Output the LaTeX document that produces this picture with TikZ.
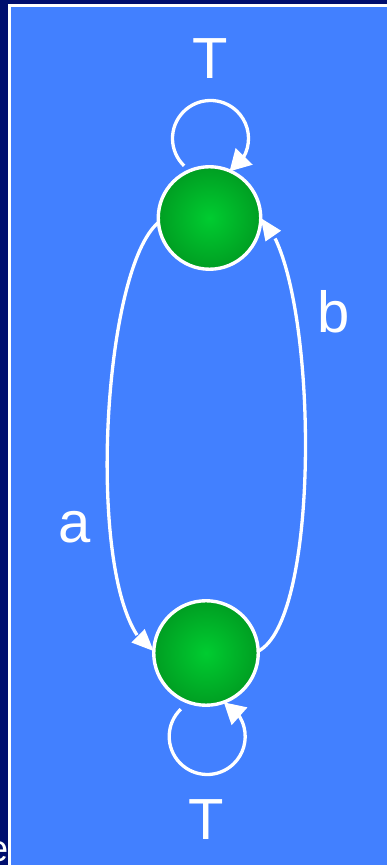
\documentclass[tikz,border=0pt]{standalone}
\usepackage{fontspec}
\setmainfont{Liberation Sans}
\usetikzlibrary{arrows.meta,bending}
\definecolor{navy}{RGB}{0,14,110}
\definecolor{slideblue}{RGB}{66,128,255}
\definecolor{ballin}{RGB}{0,204,48}
\definecolor{ballout}{RGB}{0,112,20}
\pgfdeclareradialshading{greenball}{\pgfpointorigin}{color(0bp)=(ballin); color(50bp)=(ballout)}
\pgfdeclarelayer{back}
\pgfdeclarelayer{edges}
\pgfsetlayers{back,edges,main}
\tikzset{
  state/.style={circle, draw=white, line width=3.4pt, shade, shading=greenball, inner sep=0pt, outer sep=0pt},
  conn/.style={draw=white, line width=3.3pt, -{Triangle[length=22pt,width=18pt]}},
  loopconn/.style={draw=white, line width=3.3pt, -{Triangle[length=21pt,width=23pt]}},
  lbl/.style={text=white, inner sep=0pt, anchor=base, font=\fontsize{58}{60}\selectfont},
}
\begin{document}
\begin{tikzpicture}[x=1pt,y=1pt]
\useasboundingbox (0,0) rectangle (387,865);
\clip (0,0) rectangle (387,865);
\begin{pgfonlayer}{back}
  \fill[navy] (0,0) rectangle (387,865);
  \filldraw[fill=slideblue, draw=white, line width=3pt] (9.5,-10) rectangle (400,859.5);
\end{pgfonlayer}
\node[text=white, anchor=base east, inner sep=0pt, font=\fontsize{37}{40}\selectfont] (cut) at (8.3,3) {e};
\node[state, minimum size=102.5pt] (top) at (209.5,647) {};
\node[state, minimum size=104.5pt] (bot) at (206,212) {};
\coordinate (tlc) at (210.5,726.5);
\coordinate (blc) at (207.2,128.5);
\node[lbl] (Ttop) at (210,786) {T};
\node[lbl] (Tbot) at (206.5,25) {T};
\node[lbl] (lb) at (334,532) {b};
\node[lbl] (la) at (74.5,322) {a};
\begin{pgfonlayer}{edges}
  \draw[conn] (top.185) to[out=220,in=154,distance=78pt] (bot.178);
  \draw[conn] (bot.2) to[out=27,in=320,distance=74pt] (top.0);
  \draw[loopconn] ([shift={(226:38pt)}]tlc) arc[start angle=226,end angle=-60,radius=38pt];
  \draw[loopconn] ([shift={(134:38pt)}]blc) arc[start angle=134,end angle=424,radius=38pt];
\end{pgfonlayer}
\end{tikzpicture}
\end{document}
